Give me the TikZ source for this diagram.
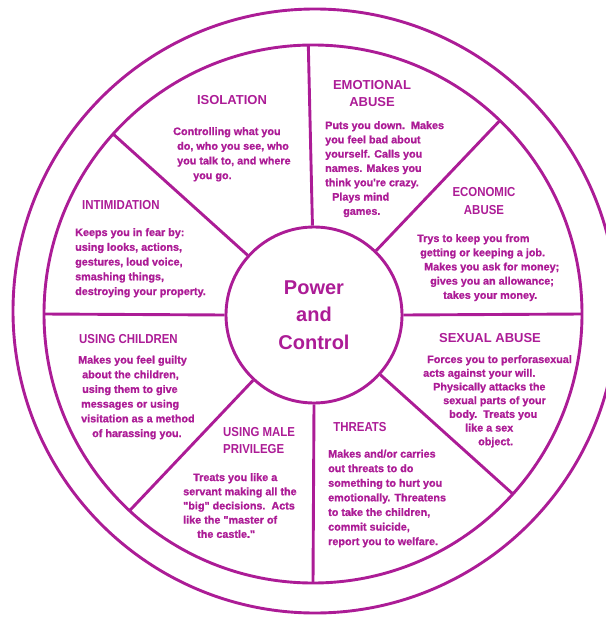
\documentclass[tikz,border=0pt]{standalone}
\usepackage{fontspec}
\setmainfont{Liberation Sans}
\newfontfamily\narrowsans[FakeStretch=0.88]{Liberation Sans}
\newfontfamily\heavysans[FakeBold=1.2]{Liberation Sans}
\usetikzlibrary{calc}
\definecolor{wheel}{RGB}{172,28,150}
\begin{document}
\begin{tikzpicture}[x=1pt,y=-1pt,
  wheelline/.style={draw=wheel, line width=2.9pt},
  title/.style={text=wheel, font=\fontsize{13}{17.4}\selectfont\bfseries, inner sep=0pt, align=center},
  ntitle/.style={text=wheel, font=\narrowsans\fontsize{13}{17.6}\selectfont\bfseries, inner sep=0pt, align=center},
  body/.style={text=wheel, font=\heavysans\fontsize{10.8}{#1}\selectfont\bfseries, inner sep=0pt, align=left, anchor=north west},
  body/.default=14.5,
  center/.style={text=wheel, font=\fontsize{20}{27.5}\selectfont\bfseries, align=center}
]
\useasboundingbox (0,0) rectangle (605,623);
% rings
\coordinate (O) at (315,311);
\coordinate (R) at (313,314);
\draw[wheelline] (O) circle[radius=302];
\draw[wheelline] (R) circle[radius=269];
% hub
\node[circle, wheelline, minimum size=176pt, inner sep=0pt, center] (hub) at (314,315) {Power\\and\\Control};
% spoke ends on the ring
\foreach \a/\n in {91/top,46/ur,0/right,-42/lr,270/bottom,227/ll,180/left,138/ul}{
  \coordinate (r\n) at ($(R)+(-\a:269)$);
}
\draw[wheelline] (hub.91) -- (rtop);
\draw[wheelline] (hub.46) -- (rur);
\draw[wheelline] (hub.0) -- (rright);
\draw[wheelline] (hub.-42) -- (rlr);
\draw[wheelline] (hub.270) -- (rbottom);
\draw[wheelline] (hub.227) -- (rll);
\draw[wheelline] (hub.180) -- (rleft);
\draw[wheelline] (hub.138) -- (rul);

% ISOLATION
\node[title] (isoT) at (232,100) {ISOLATION};
\node[body=14.7] (isoB) at (173,127) {Controlling what you\\
\hspace*{4pt}do, who you see, who\\
\hspace*{4pt}you talk to, and where\\
\hspace*{20pt}you go.};

% EMOTIONAL ABUSE
\node[title] (emoT) at (372,93.7) {EMOTIONAL\\ABUSE};
\node[body=14.3] (emoB) at (325,121) {Puts you down.\ \ Makes\\
you feel bad about\\
yourself. Calls you\\
names. Makes you\\
think you're crazy.\\
\hspace*{7pt}Plays mind\\
\hspace*{18pt}games.};

% ECONOMIC ABUSE
\node[ntitle] (ecoT) at (484,201) {ECONOMIC\\ABUSE};
\node[body=14.2] (ecoB) at (417,234) {Trys to keep you from\\
\hspace*{3pt}getting or keeping a job.\\
\hspace*{7pt}Makes you ask for money;\\
\hspace*{13pt}gives you an allowance;\\
\hspace*{26pt}takes your money.};

% SEXUAL ABUSE
\node[title] (sexT) at (490,338.5) {SEXUAL ABUSE};
\node[body=13.7] (sexB) at (423,355) {\hspace*{4pt}Forces you to perforasexual\\
acts against your will.\\
\hspace*{10pt}Physically attacks the\\
\hspace*{20pt}sexual parts of your\\
\hspace*{26pt}body.\ \ Treats you\\
\hspace*{42pt}like a sex\\
\hspace*{55pt}object.};

% THREATS
\node[ntitle] (thrT) at (360,427) {THREATS};
\node[body=14.6] (thrB) at (328,449.5) {Makes and/or carries\\
out threats to do\\
something to hurt you\\
emotionally. Threatens\\
to take the children,\\
commit suicide,\\
report you to welfare.};

% USING MALE PRIVILEGE
\node[ntitle, align=left, anchor=west] (malT) at (223,440.5) {USING MALE\\PRIVILEGE};
\node[body=14.2] (malB) at (183,473) {\hspace*{10pt}Treats you like a\\
servant making all the\\
"big" decisions.\ \ Acts\\
like the "master of\\
\hspace*{14pt}the castle."};

% USING CHILDREN
\node[ntitle, anchor=west] (chiT) at (79,339) {USING CHILDREN};
\node[body=14.7] (chiB) at (78,355.5) {Makes you feel guilty\\
\hspace*{4pt}about the children,\\
\hspace*{4pt}using them to give\\
\hspace*{3pt}messages or using\\
\hspace*{3pt}visitation as a method\\
\hspace*{14pt}of harassing you.};

% INTIMIDATION
\node[ntitle, anchor=west] (intT) at (82,205) {INTIMIDATION};
\node[body=14.75] (intB) at (75,228) {Keeps you in fear by:\\
using looks, actions,\\
gestures, loud voice,\\
smashing things,\\
destroying your property.};
\end{tikzpicture}
\end{document}
